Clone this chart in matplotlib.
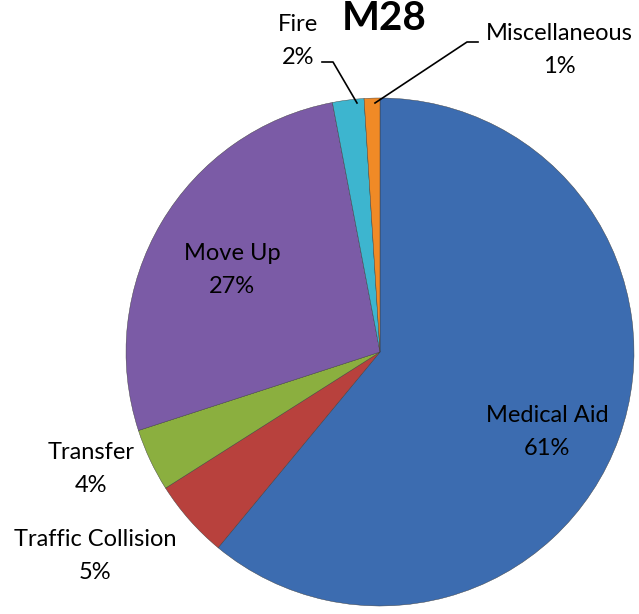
import matplotlib.pyplot as plt

# données
categories = ['Medical Aid', 'Traffic Collision', 'Transfer', 'Move Up', 'Fire', 'Miscellaneous']
values = [61, 5, 4, 27, 2, 1]
colors = ['#3C6CB0', '#B8413D', '#8BAF3F', '#7B5BA6', '#3DB5CF', '#F08A26']

W, H = 639, 614
plt.rcParams['font.family'] = ['Lato', 'DejaVu Sans']

fig = plt.figure(figsize=(W / 100, H / 100), dpi=100)
ax = fig.add_axes([0, 0, 1, 1])

cx, cy, r = 380, H - 352, 254
wedges, _ = ax.pie(values, colors=colors, startangle=90, counterclock=False,
                   center=(cx, cy), radius=r, frame=True,
                   wedgeprops=dict(edgecolor='#3a3a3a', linewidth=0.3))
ax.set_xlim(0, W)
ax.set_ylim(0, H)
ax.set_aspect('equal')
ax.axis('off')

# étiquettes
pos = {
    'Medical Aid': (547, 432),
    'Traffic Collision': (95, 556),
    'Transfer': (91, 469),
    'Move Up': (232, 270),
    'Fire': (298, 41),
    'Miscellaneous': (559, 50),
}
for cat, v in zip(categories, values):
    x, y = pos[cat]
    ax.text(x, H - y, f'{cat}\n{v}%', ha='center', va='center',
            fontsize=17, linespacing=1.7, color='black')

# lignes de rappel
ax.plot([322, 333, 357], [H - 62, H - 62, H - 103], color='black', lw=1.2)
ax.plot([478, 467, 375], [H - 42, H - 42, H - 103], color='black', lw=1.2)

ax.text(384, H - 19, 'M28', ha='center', va='center', fontsize=29, fontweight='bold')

plt.savefig('out.png', dpi=100)
